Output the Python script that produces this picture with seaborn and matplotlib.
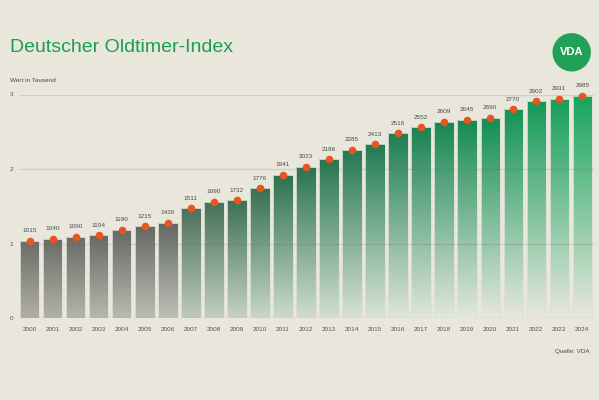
import numpy as np
import pandas as pd
import matplotlib
matplotlib.use("Agg")
import matplotlib.pyplot as plt
from matplotlib.patches import Ellipse
from matplotlib.path import Path
import seaborn as sns

# Daten
jahre = ["2000", "2001", "2002", "2003", "2004", "2005", "2006", "2007", "2008",
         "2009", "2010", "2011", "2012", "2013", "2014", "2015", "2016", "2017",
         "2018", "2019", "2020", "2021", "2022", "2023", "2024"]
# Beschriftung der Balken
werte = [1015, 1040, 1090, 1104, 1190, 1215, 1430, 1511, 1690, 1732, 1776, 1941,
         2023, 2186, 2285, 2413, 2516, 2552, 2609, 2645, 2690, 2770, 2902, 2931, 2985]
# Balkenhoehe (Wert in Tausend, aus dem Bild gelesen)
hoehe = [1.04, 1.06, 1.09, 1.11, 1.18, 1.23, 1.28, 1.47, 1.56, 1.58, 1.74, 1.92,
         2.03, 2.13, 2.26, 2.33, 2.48, 2.56, 2.63, 2.66, 2.69, 2.80, 2.91, 2.94, 2.98]
y_ticks = [0, 1, 2, 3]

# Farben
hintergrund = "#e9e6dc"
gruen = "#1c9e52"
punkt_farbe = "#e8551f"
text_farbe = "#4a4a4a"

# Verlauf: Farbe oben / unten je nach Balkenposition
anker = [0, 6, 7, 11, 16, 20, 24]
oben = np.array([(108, 108, 103), (98, 104, 98), (75, 112, 92), (45, 112, 78),
                 (30, 126, 82), (16, 142, 82), (22, 165, 92)]) / 255
unten = np.array([(176, 174, 166), (190, 192, 182), (190, 202, 190), (205, 218, 205),
                  (222, 230, 218), (230, 232, 222), (233, 231, 222)]) / 255

sns.set_theme(style="white")
plt.rcParams["font.family"] = ["Liberation Sans", "DejaVu Sans"]

fig = plt.figure(figsize=(5.99, 4.0), dpi=100, facecolor=hintergrund)
ax = fig.add_axes([18.2 / 599, 82 / 400, (593.8 - 18.2) / 599, (318 - 94.5) / 400])
ax.set_facecolor(hintergrund)

df = pd.DataFrame({"jahr": jahre, "hoehe": hoehe, "wert": werte})
sns.barplot(data=df, x="jahr", y="hoehe", ax=ax, color="white", width=0.84,
            saturation=1, errorbar=None)

bars = list(ax.patches)
mitten = [b.get_x() + b.get_width() / 2 for b in bars]

# ein Bild fuer alle Balken, Verlauf je Balken von oben nach unten
x_ext = (-1.0, len(jahre))
y_ext = (-0.2, 3.2)
nx, ny = 1200, 700
xs = np.linspace(x_ext[0], x_ext[1], nx)
ys = np.linspace(y_ext[1], y_ext[0], ny)
idx = np.clip(np.round(xs).astype(int), 0, len(bars) - 1)
h_col = np.array([bars[i].get_height() for i in idx])
c_oben = np.stack([np.interp(idx, anker, oben[:, k]) for k in range(3)], axis=-1)
c_unten = np.stack([np.interp(idx, anker, unten[:, k]) for k in range(3)], axis=-1)
tt = np.clip(1 - ys[:, None] / h_col[None, :], 0, 1)[..., None]
bild = c_oben[None, :, :] * (1 - tt) + c_unten[None, :, :] * tt

pfade = [b.get_path().transformed(b.get_patch_transform()) for b in bars]
clip = Path.make_compound_path(*pfade)
im = ax.imshow(bild, extent=[x_ext[0], x_ext[1], y_ext[0], y_ext[1]],
               aspect="auto", origin="upper", zorder=2, interpolation="nearest")
im.set_clip_path(clip, ax.transData)

for b in bars:
    b.set_facecolor("none")
    b.set_edgecolor((0.87, 0.88, 0.84))
    b.set_linewidth(0.6)
    b.set_zorder(3)

# Gitterlinien ueber den Balken
for y in y_ticks:
    ax.axhline(y, xmin=0.003, color="#736e60", alpha=0.2, lw=1, zorder=4)

# Punkte und Werte
ax.scatter(mitten, hoehe, s=30, color=punkt_farbe, zorder=5, clip_on=False,
           linewidths=0)
for x, h, w in zip(mitten, hoehe, werte):
    ax.annotate(str(w), (x, h), xytext=(0, 5.5), textcoords="offset points",
                ha="center", va="bottom", fontsize=4.6, color=text_farbe,
                annotation_clip=False)

ax.set_xlim(-0.5, len(jahre) - 0.5)
ax.set_ylim(0, 3)
ax.set_yticks(y_ticks)
ax.set_yticklabels([str(y) for y in y_ticks])
ax.set_xlabel("")
ax.set_ylabel("")
ax.tick_params(axis="y", length=0, labelsize=4.6, colors="#555555", pad=3.5)
ax.tick_params(axis="x", length=0, labelsize=4.6, colors="#555555", pad=6.5)
for s in ax.spines.values():
    s.set_visible(False)

# Texte
fig.text(10 / 599, 1 - 48 / 400, "Deutscher Oldtimer-Index", fontsize=14,
         color=gruen, va="center")
fig.text(10 / 599, 1 - 81 / 400, "Wert in Tausend", fontsize=4.6, color=text_farbe,
         va="center")
fig.text(590 / 599, 1 - 351 / 400, "Quelle: VDA", fontsize=4.6, color=text_farbe,
         ha="right", va="center")

# Logo
fig.add_artist(Ellipse((571.7 / 599, 1 - 52.3 / 400), 37 / 599, 37 / 400,
                       transform=fig.transFigure, color="#1fa257"))
fig.text(571.7 / 599, 1 - 52.3 / 400, "VDA", fontsize=8, color="white",
         fontweight="bold", ha="center", va="center")

fig.savefig("out.png", dpi=100, facecolor=hintergrund)
